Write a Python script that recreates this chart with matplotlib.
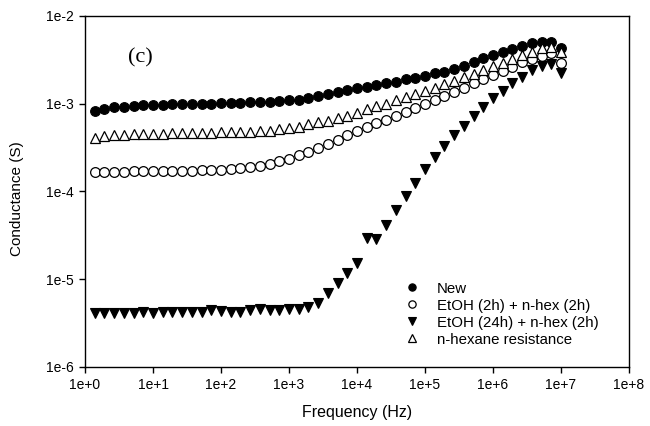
import math
import matplotlib
matplotlib.use("Agg")
import matplotlib.pyplot as plt
from matplotlib.ticker import FixedLocator, FuncFormatter, NullLocator

plt.rcParams['font.family'] = ['Liberation Sans', 'DejaVu Sans']

# frequency sweep, 7 points per decade up to 10 MHz
freq_hz = [
    1.39, 1.93, 2.68, 3.73, 5.18, 7.20, 10.0,
    13.9, 19.3, 26.8, 37.3, 51.8, 72.0, 100.0,
    139, 193, 268, 373, 518, 720, 1000,
    1390, 1930, 2680, 3730, 5180, 7200, 1.0e4,
    1.39e4, 1.93e4, 2.68e4, 3.73e4, 5.18e4, 7.20e4, 1.0e5,
    1.39e5, 1.93e5, 2.68e5, 3.73e5, 5.18e5, 7.20e5, 1.0e6,
    1.39e6, 1.93e6, 2.68e6, 3.73e6, 5.18e6, 7.20e6, 1.0e7,
]

g_new = [
    8.26e-4, 8.71e-4, 9.02e-4, 9.25e-4, 9.42e-4, 9.59e-4, 9.66e-4,
    9.74e-4, 9.83e-4, 9.92e-4, 9.92e-4, 1.00e-3, 1.00e-3, 1.01e-3,
    1.01e-3, 1.02e-3, 1.03e-3, 1.04e-3, 1.05e-3, 1.07e-3, 1.09e-3,
    1.11e-3, 1.17e-3, 1.22e-3, 1.27e-3, 1.34e-3, 1.42e-3, 1.50e-3,
    1.56e-3, 1.63e-3, 1.71e-3, 1.78e-3, 1.89e-3, 1.97e-3, 2.08e-3,
    2.21e-3, 2.31e-3, 2.46e-3, 2.70e-3, 3.00e-3, 3.28e-3, 3.58e-3,
    3.83e-3, 4.19e-3, 4.56e-3, 4.85e-3, 4.98e-3, 4.98e-3, 4.27e-3,
]

g_etoh2 = [
    1.66e-4, 1.66e-4, 1.67e-4, 1.67e-4, 1.69e-4, 1.69e-4, 1.69e-4,
    1.70e-4, 1.70e-4, 1.72e-4, 1.72e-4, 1.73e-4, 1.75e-4, 1.76e-4,
    1.80e-4, 1.85e-4, 1.89e-4, 1.96e-4, 2.06e-4, 2.19e-4, 2.36e-4,
    2.57e-4, 2.82e-4, 3.11e-4, 3.43e-4, 3.82e-4, 4.35e-4, 4.93e-4,
    5.39e-4, 5.98e-4, 6.53e-4, 7.25e-4, 7.91e-4, 8.87e-4, 9.84e-4,
    1.10e-3, 1.22e-3, 1.37e-3, 1.52e-3, 1.71e-3, 1.91e-3, 2.12e-3,
    2.37e-3, 2.63e-3, 2.95e-3, 3.22e-3, 3.51e-3, 3.74e-3, 2.92e-3,
]

g_etoh24 = [
    4.15e-6, 4.07e-6, 4.15e-6, 4.15e-6, 4.15e-6, 4.22e-6, 4.15e-6,
    4.22e-6, 4.22e-6, 4.22e-6, 4.22e-6, 4.22e-6, 4.45e-6, 4.33e-6,
    4.26e-6, 4.26e-6, 4.41e-6, 4.53e-6, 4.45e-6, 4.45e-6, 4.53e-6,
    4.60e-6, 4.85e-6, 5.30e-6, 7.00e-6, 9.10e-6, 1.18e-5, 1.53e-5,
    2.95e-5, 2.88e-5, 4.19e-5, 6.09e-5, 8.93e-5, 1.26e-4, 1.80e-4,
    2.46e-4, 3.25e-4, 4.33e-4, 5.58e-4, 7.25e-4, 9.24e-4, 1.15e-3,
    1.39e-3, 1.73e-3, 2.00e-3, 2.41e-3, 2.68e-3, 2.82e-3, 2.21e-3,
]

g_hexane = [
    4.04e-4, 4.22e-4, 4.33e-4, 4.41e-4, 4.45e-4, 4.49e-4, 4.53e-4,
    4.53e-4, 4.56e-4, 4.56e-4, 4.61e-4, 4.61e-4, 4.65e-4, 4.68e-4,
    4.68e-4, 4.73e-4, 4.77e-4, 4.85e-4, 4.93e-4, 5.07e-4, 5.20e-4,
    5.39e-4, 5.78e-4, 6.10e-4, 6.40e-4, 6.80e-4, 7.30e-4, 7.90e-4,
    8.60e-4, 9.30e-4, 1.00e-3, 1.09e-3, 1.18e-3, 1.29e-3, 1.40e-3,
    1.52e-3, 1.66e-3, 1.81e-3, 1.99e-3, 2.16e-3, 2.41e-3, 2.68e-3,
    2.88e-3, 3.22e-3, 3.58e-3, 3.90e-3, 4.27e-3, 4.45e-3, 3.90e-3,
]

labels = ['New', 'EtOH (2h) + n-hex (2h)', 'EtOH (24h) + n-hex (2h)',
          'n-hexane resistance']

x_ticks = [1e0, 1e1, 1e2, 1e3, 1e4, 1e5, 1e6, 1e7, 1e8]
y_ticks = [1e-6, 1e-5, 1e-4, 1e-3, 1e-2]

fig = plt.figure(figsize=(6.5, 4.26), dpi=100)
ax = fig.add_axes([0.1308, 0.1385, 0.8369, 0.8246])

ms = 7
ax.plot(freq_hz, g_new, 'o', ls='none', ms=ms, mfc='black', mec='black',
        mew=0.8, label=labels[0])
ax.plot(freq_hz, g_etoh2, 'o', ls='none', ms=ms, mfc='white', mec='black',
        mew=0.9, label=labels[1])
ax.plot(freq_hz, g_etoh24, 'v', ls='none', ms=ms, mfc='black', mec='black',
        mew=0.8, label=labels[2])
ax.plot(freq_hz, g_hexane, '^', ls='none', ms=ms, mfc='white', mec='black',
        mew=0.9, label=labels[3])

ax.set_xscale('log')
ax.set_yscale('log')
ax.set_xlim(1e0, 1e8)
ax.set_ylim(1e-6, 1e-2)


def sci_label(v, pos):
    e = int(round(math.log10(v)))
    return f"1e+{e}" if e >= 0 else f"1e-{-e}"


ax.xaxis.set_major_locator(FixedLocator(x_ticks))
ax.yaxis.set_major_locator(FixedLocator(y_ticks))
ax.xaxis.set_minor_locator(NullLocator())
ax.yaxis.set_minor_locator(NullLocator())
ax.xaxis.set_major_formatter(FuncFormatter(sci_label))
ax.yaxis.set_major_formatter(FuncFormatter(sci_label))
ax.tick_params(axis='both', which='major', direction='out', length=4,
               width=1, labelsize=10, pad=4)

for s in ax.spines.values():
    s.set_linewidth(1)

ax.set_xlabel('Frequency (Hz)', fontsize=11.5, labelpad=9)
ax.set_ylabel('Conductance (S)', fontsize=11)
ax.yaxis.set_label_coords(-0.113, 0.48)

ax.text(0.101, 0.88, '(c)', transform=ax.transAxes, fontsize=16,
        family='Liberation Serif', ha='center', va='center')

ax.legend(loc='upper left', bbox_to_anchor=(0.587, 0.243), frameon=False,
          fontsize=10.8, markerscale=0.75, handlelength=1.0,
          handletextpad=1.15, labelspacing=0.2, borderpad=0,
          borderaxespad=0)

fig.savefig('out.png', dpi=100)
